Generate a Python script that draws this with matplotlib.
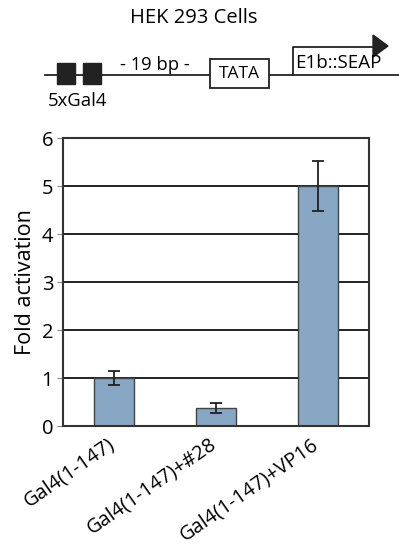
import matplotlib.pyplot as plt
import matplotlib.transforms as mtransforms
from matplotlib.patches import Rectangle, Polygon

plt.rcParams['font.family'] = ['Open Sans', 'DejaVu Sans']

# data
labels = ['Gal4(1-147)', 'Gal4(1-147)+#28', 'Gal4(1-147)+VP16']
fold = [1.0, 0.37, 5.0]
err = [0.15, 0.1, 0.52]
yticks = [0, 1, 2, 3, 4, 5, 6]

W, H = 399, 548
fig = plt.figure(figsize=(W / 100, H / 100), dpi=100)

# promoter diagram in pixel coords
d = fig.add_axes([0, 0, 1, 1])
d.set_xlim(0, W)
d.set_ylim(H, 0)
d.axis('off')
d.text(194, 18, 'HEK 293 Cells', ha='center', va='center', fontsize=14.5)
d.plot([45, 399], [75, 75], color='#222222', lw=1.3)
for x0 in [57, 83]:
    d.add_patch(Rectangle((x0, 63), 18, 21, color='#222222'))
d.text(155, 65, '- 19 bp -', ha='center', va='center', fontsize=13.2)
d.add_patch(Rectangle((210, 59), 59, 29, fc='white', ec='#222222', lw=1.3, zorder=3))
d.text(239.5, 74, 'TATA', ha='center', va='center', fontsize=12.5, zorder=4)
d.plot([293, 293, 374], [75, 47, 47], color='#222222', lw=1.3)
d.add_patch(Polygon([[373, 35], [388, 46], [373, 57]], color='#222222'))
d.text(295, 63, 'E1b::SEAP', ha='left', va='center', fontsize=13.5)
d.text(48, 101, '5xGal4', ha='left', va='center', fontsize=13.3)

ax = fig.add_axes([63 / W, (H - 426) / H, 306 / W, 288 / H])
x = range(len(labels))
ax.bar(x, fold, width=0.4, color='#87a7c4', edgecolor='#444444', linewidth=1, zorder=2)
ax.errorbar(x, fold, yerr=err, fmt='none', ecolor='#222222', elinewidth=1.3,
            capsize=4, capthick=1.3, zorder=3)
ax.set_xlim(-0.5, 2.5)
ax.set_ylim(0, 6)
ax.set_yticks(yticks)
ax.yaxis.grid(True, color='#111111', lw=1.3, zorder=0)
ax.set_axisbelow(True)
for s in ax.spines.values():
    s.set_color('#333333')
    s.set_linewidth(1.5)
ax.tick_params(axis='y', length=4, color='#888888', labelsize=14.5, pad=3)
ax.tick_params(axis='x', length=0, labelsize=14.4, pad=6)
ax.set_xticks(list(x))
ax.set_xticklabels(labels, rotation=35, ha='right', rotation_mode='anchor')
shift = mtransforms.ScaledTranslation(-7 / 100, 0, fig.dpi_scale_trans)
for t in ax.get_xticklabels():
    t.set_transform(t.get_transform() + shift)
ax.set_ylabel('Fold activation', fontsize=15.5, labelpad=4)

fig.savefig('out.png', dpi=100)
